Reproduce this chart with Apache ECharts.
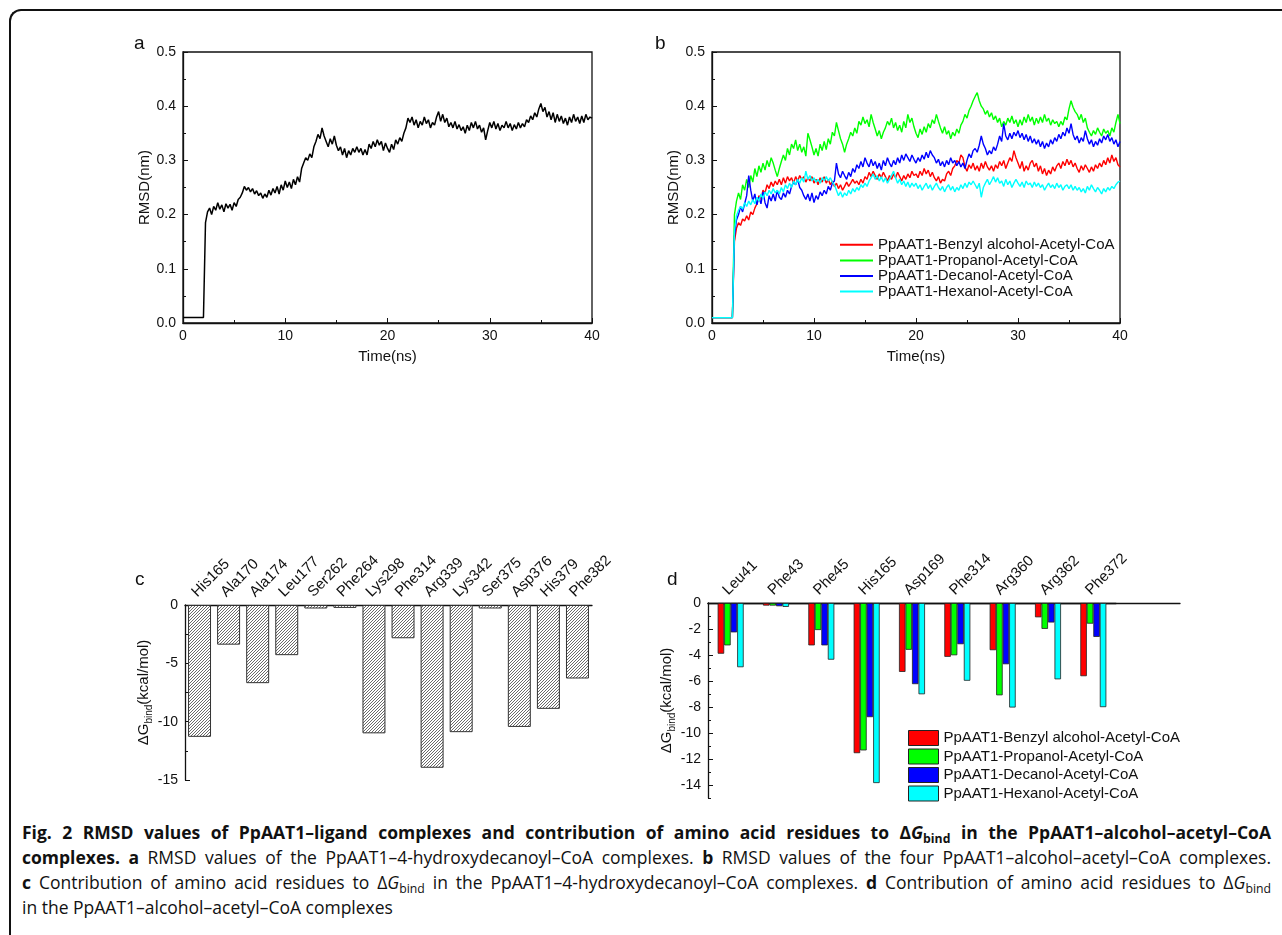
<!DOCTYPE html>
<html><head><meta charset="utf-8">
<script src="https://cdn.jsdelivr.net/npm/echarts@6/dist/echarts.min.js"></script>
<style>
html,body{margin:0;padding:0;background:#fff;width:1282px;height:935px;overflow:hidden;position:relative}
#frame{position:absolute;left:9px;top:9px;width:1400px;height:1100px;border-left:2px solid #111;border-top:2px solid #111;border-top-left-radius:12px;box-sizing:border-box}
#top{position:absolute;left:0;top:0;width:1282px;height:420px}
#bot{position:absolute;left:0;top:420px;width:1282px;height:400px}
#cap{position:absolute;left:22px;top:820px;width:1249px;font-family:'Open Sans',sans-serif;font-size:17.5px;color:#111}
.l{height:25px;line-height:25px;white-space:nowrap}
.j{text-align:justify;text-align-last:justify}
sub{font-size:70%;vertical-align:baseline;position:relative;top:0.3em;line-height:0}
</style></head><body>
<div id="frame"></div>
<div id="top"></div>
<div id="bot"></div>
<div id="cap">
<div class="l j"><b>Fig. 2 RMSD values of PpAAT1–ligand complexes and contribution of amino acid residues to Δ<i>G</i><sub>bind</sub> in the PpAAT1–alcohol–acetyl–CoA</b></div>
<div class="l j"><b>complexes. a</b> RMSD values of the PpAAT1–4-hydroxydecanoyl–CoA complexes. <b>b</b> RMSD values of the four PpAAT1–alcohol–acetyl–CoA complexes.</div>
<div class="l j"><b>c</b> Contribution of amino acid residues to Δ<i>G</i><sub>bind</sub> in the PpAAT1–4-hydroxydecanoyl–CoA complexes. <b>d</b> Contribution of amino acid residues to Δ<i>G</i><sub>bind</sub></div>
<div class="l">in the PpAAT1–alcohol–acetyl–CoA complexes</div>
</div>
<script>
// ---------- DATA ----------
// time grid: 0 .. 40 ns, step 0.2 ns (201 samples)
const timeNs = [];
for (let i = 0; i <= 200; i++) timeNs.push(+(i * 0.2).toFixed(1));

// panel a: PpAAT1-4-hydroxydecanoyl-CoA RMSD (nm)
const rmsdA = [
0.01,0.01,0.01,0.01,0.01,0.01,0.01,0.01,0.01,0.01,
0.01,0.185,0.205,0.212,0.2,0.215,0.208,0.222,0.21,0.218,
0.205,0.22,0.212,0.219,0.208,0.222,0.215,0.228,0.232,0.24,
0.252,0.245,0.25,0.242,0.248,0.238,0.244,0.235,0.24,0.23,
0.238,0.232,0.245,0.236,0.248,0.24,0.252,0.238,0.255,0.245,
0.262,0.25,0.26,0.248,0.265,0.255,0.27,0.26,0.285,0.295,
0.305,0.3,0.312,0.305,0.325,0.335,0.348,0.34,0.36,0.345,
0.335,0.325,0.34,0.33,0.345,0.328,0.318,0.325,0.31,0.322,
0.305,0.318,0.31,0.322,0.315,0.325,0.315,0.322,0.31,0.32,
0.31,0.33,0.322,0.335,0.325,0.338,0.328,0.335,0.318,0.332,
0.322,0.315,0.33,0.32,0.338,0.33,0.342,0.335,0.35,0.36,
0.378,0.37,0.38,0.365,0.375,0.36,0.372,0.365,0.38,0.368,
0.375,0.36,0.37,0.365,0.38,0.39,0.372,0.385,0.37,0.378,
0.362,0.37,0.36,0.372,0.358,0.366,0.355,0.362,0.35,0.365,
0.355,0.37,0.36,0.372,0.358,0.365,0.352,0.36,0.338,0.355,
0.37,0.36,0.372,0.358,0.368,0.355,0.365,0.36,0.372,0.36,
0.368,0.355,0.366,0.358,0.37,0.36,0.368,0.362,0.375,0.37,
0.382,0.375,0.388,0.38,0.395,0.405,0.39,0.398,0.38,0.39,
0.375,0.388,0.37,0.385,0.372,0.382,0.368,0.378,0.365,0.38,
0.37,0.385,0.372,0.38,0.368,0.382,0.37,0.385,0.375,0.38,
0.378];

// panel b series
const rmsdBenzyl = [
0.01,0.01,0.01,0.01,0.01,0.01,0.01,0.01,0.01,0.01,
0.01,0.15,0.175,0.185,0.18,0.192,0.188,0.198,0.19,0.205,
0.2,0.212,0.22,0.235,0.228,0.245,0.24,0.255,0.248,0.26,
0.252,0.262,0.255,0.265,0.255,0.268,0.258,0.27,0.262,0.268,
0.258,0.27,0.262,0.272,0.265,0.27,0.26,0.268,0.262,0.27,
0.258,0.265,0.255,0.268,0.26,0.27,0.258,0.265,0.255,0.262,
0.252,0.258,0.248,0.255,0.245,0.252,0.26,0.252,0.258,0.265,
0.258,0.262,0.255,0.265,0.258,0.27,0.265,0.278,0.27,0.28,
0.272,0.265,0.275,0.268,0.278,0.27,0.262,0.272,0.265,0.275,
0.268,0.278,0.27,0.262,0.272,0.265,0.275,0.268,0.28,0.272,
0.275,0.268,0.28,0.272,0.285,0.275,0.282,0.27,0.278,0.268,
0.262,0.27,0.258,0.265,0.262,0.275,0.28,0.272,0.285,0.29,
0.3,0.295,0.31,0.305,0.288,0.28,0.292,0.285,0.295,0.282,
0.29,0.28,0.295,0.285,0.298,0.288,0.282,0.29,0.28,0.292,
0.285,0.298,0.29,0.3,0.285,0.295,0.305,0.298,0.318,0.305,
0.295,0.285,0.298,0.28,0.29,0.282,0.295,0.3,0.288,0.295,
0.28,0.29,0.275,0.285,0.272,0.282,0.275,0.288,0.28,0.29,
0.295,0.285,0.298,0.29,0.302,0.292,0.3,0.288,0.295,0.285,
0.278,0.29,0.282,0.292,0.285,0.278,0.288,0.28,0.292,0.285,
0.295,0.288,0.3,0.292,0.305,0.295,0.31,0.298,0.305,0.292,
0.288];
const rmsdPropanol = [
0.01,0.01,0.01,0.01,0.01,0.01,0.01,0.01,0.01,0.01,
0.01,0.2,0.225,0.24,0.228,0.255,0.245,0.265,0.25,0.272,
0.26,0.285,0.27,0.29,0.278,0.295,0.282,0.3,0.288,0.305,
0.295,0.282,0.27,0.285,0.298,0.31,0.3,0.322,0.31,0.33,
0.322,0.338,0.318,0.33,0.315,0.325,0.308,0.35,0.338,0.325,
0.31,0.322,0.308,0.33,0.318,0.335,0.32,0.34,0.33,0.352,
0.345,0.37,0.355,0.34,0.33,0.315,0.33,0.34,0.352,0.345,
0.36,0.35,0.372,0.365,0.38,0.368,0.375,0.362,0.385,0.37,
0.358,0.345,0.355,0.34,0.352,0.36,0.372,0.365,0.378,0.36,
0.37,0.355,0.365,0.352,0.372,0.36,0.385,0.37,0.378,0.362,
0.35,0.342,0.358,0.348,0.362,0.352,0.368,0.36,0.375,0.368,
0.385,0.372,0.36,0.35,0.362,0.348,0.355,0.34,0.352,0.345,
0.358,0.35,0.365,0.372,0.385,0.378,0.392,0.4,0.41,0.418,
0.425,0.41,0.4,0.395,0.385,0.392,0.38,0.388,0.375,0.382,
0.37,0.378,0.362,0.372,0.365,0.378,0.37,0.382,0.368,0.375,
0.362,0.375,0.365,0.38,0.37,0.385,0.372,0.38,0.365,0.378,
0.368,0.38,0.37,0.385,0.372,0.378,0.365,0.375,0.368,0.372,
0.362,0.372,0.365,0.38,0.375,0.395,0.41,0.398,0.39,0.385,
0.375,0.385,0.37,0.378,0.36,0.352,0.345,0.355,0.348,0.36,
0.352,0.345,0.358,0.35,0.355,0.345,0.36,0.352,0.37,0.385,
0.368];
const rmsdDecanol = [
0.01,0.01,0.01,0.01,0.01,0.01,0.01,0.01,0.01,0.01,
0.01,0.16,0.19,0.2,0.215,0.205,0.22,0.235,0.272,0.245,
0.225,0.238,0.218,0.232,0.22,0.242,0.222,0.212,0.235,0.225,
0.238,0.225,0.245,0.232,0.228,0.24,0.232,0.245,0.238,0.252,
0.26,0.255,0.265,0.25,0.245,0.235,0.228,0.238,0.225,0.24,
0.222,0.235,0.228,0.242,0.235,0.245,0.238,0.252,0.245,0.258,
0.262,0.295,0.275,0.268,0.28,0.272,0.265,0.278,0.27,0.285,
0.278,0.292,0.285,0.298,0.288,0.305,0.295,0.288,0.302,0.29,
0.298,0.285,0.295,0.282,0.3,0.29,0.305,0.295,0.288,0.3,
0.292,0.305,0.295,0.31,0.3,0.312,0.305,0.298,0.31,0.302,
0.295,0.305,0.298,0.31,0.302,0.315,0.305,0.318,0.31,0.305,
0.295,0.302,0.29,0.298,0.288,0.3,0.292,0.305,0.295,0.3,
0.29,0.298,0.288,0.295,0.285,0.3,0.312,0.305,0.318,0.322,
0.315,0.328,0.345,0.33,0.322,0.31,0.318,0.312,0.325,0.318,
0.33,0.345,0.335,0.368,0.345,0.338,0.35,0.34,0.352,0.345,
0.355,0.342,0.35,0.338,0.348,0.335,0.345,0.332,0.34,0.33,
0.338,0.325,0.335,0.322,0.332,0.325,0.338,0.33,0.342,0.335,
0.348,0.34,0.352,0.345,0.36,0.35,0.368,0.348,0.338,0.345,
0.332,0.342,0.335,0.355,0.34,0.33,0.338,0.325,0.335,0.328,
0.34,0.332,0.345,0.338,0.348,0.335,0.342,0.33,0.338,0.325,
0.335];
const rmsdHexanol = [
0.01,0.01,0.01,0.01,0.01,0.01,0.01,0.01,0.01,0.01,
0.01,0.17,0.198,0.208,0.215,0.21,0.222,0.215,0.225,0.218,
0.228,0.22,0.232,0.225,0.238,0.23,0.242,0.235,0.245,0.238,
0.248,0.24,0.245,0.238,0.25,0.242,0.255,0.248,0.258,0.25,
0.262,0.255,0.265,0.258,0.268,0.26,0.28,0.265,0.272,0.262,
0.268,0.26,0.265,0.258,0.268,0.262,0.27,0.262,0.268,0.26,
0.255,0.245,0.235,0.242,0.232,0.24,0.235,0.245,0.238,0.248,
0.242,0.25,0.245,0.255,0.25,0.258,0.252,0.262,0.268,0.275,
0.265,0.272,0.262,0.27,0.26,0.268,0.258,0.265,0.272,0.28,
0.268,0.258,0.265,0.255,0.262,0.252,0.26,0.25,0.258,0.252,
0.258,0.248,0.255,0.245,0.252,0.258,0.248,0.255,0.245,0.252,
0.258,0.25,0.245,0.252,0.242,0.25,0.255,0.245,0.252,0.242,
0.25,0.245,0.255,0.248,0.258,0.25,0.26,0.255,0.262,0.255,
0.248,0.258,0.232,0.25,0.258,0.265,0.255,0.262,0.27,0.26,
0.268,0.258,0.262,0.252,0.265,0.255,0.262,0.25,0.258,0.265,
0.258,0.252,0.26,0.25,0.262,0.255,0.258,0.25,0.26,0.252,
0.258,0.25,0.255,0.245,0.252,0.258,0.25,0.255,0.248,0.258,
0.25,0.255,0.245,0.252,0.255,0.248,0.255,0.245,0.252,0.245,
0.25,0.242,0.248,0.24,0.252,0.245,0.255,0.248,0.242,0.25,
0.245,0.238,0.248,0.242,0.25,0.245,0.252,0.248,0.255,0.26,
0.262];

const seriesNames = ['PpAAT1-Benzyl alcohol-Acetyl-CoA','PpAAT1-Propanol-Acetyl-CoA','PpAAT1-Decanol-Acetyl-CoA','PpAAT1-Hexanol-Acetyl-CoA'];
const seriesColors = ['#ff0000','#00ff00','#0000ff','#00ffff'];

// panel c
const residuesC = ['His165','Ala170','Ala174','Leu177','Ser262','Phe264','Lys298','Phe314','Arg339','Lys342','Ser375','Asp376','His379','Phe382'];
const dGc = [-11.3,-3.4,-6.7,-4.3,-0.3,-0.25,-11.0,-2.85,-13.95,-10.9,-0.3,-10.45,-8.9,-6.3];

// panel d
const residuesD = ['Leu41','Phe43','Phe45','His165','Asp169','Phe314','Arg360','Arg362','Phe372'];
const dGbenzyl   = [-3.9,-0.2,-3.26,-11.55,-5.3,-4.14,-3.63,-1.1,-5.63];
const dGpropanol = [-3.26,-0.2,-2.08,-11.34,-3.6,-4.02,-7.1,-1.99,-1.59];
const dGdecanol  = [-2.26,-0.25,-3.26,-8.78,-6.24,-3.17,-4.71,-1.5,-2.61];
const dGhexanol  = [-4.94,-0.3,-4.36,-13.85,-7.02,-5.98,-8.04,-5.87,-8.01];
const dTicksD = [0,-2,-4,-6,-8,-10,-12,-14];

// ---------- STYLE ----------
const FONT = "'Liberation Sans', Arial, sans-serif";
const INK = '#111';
function hatchCanvas(){
  const s = 3;
  const c = document.createElement('canvas'); c.width = s; c.height = s;
  const g = c.getContext('2d');
  g.fillStyle = '#fff'; g.fillRect(0,0,s,s);
  g.strokeStyle = '#444'; g.lineWidth = 0.8;
  g.beginPath();
  g.moveTo(0,s); g.lineTo(s,0);
  g.moveTo(-s,s); g.lineTo(s,-s);
  g.moveTo(0,2*s); g.lineTo(2*s,0);
  g.stroke();
  return c;
}

function rmsdXAxis(gi){
  return {type:'value', gridIndex:gi, min:0, max:40, interval:10,
    name:'Time(ns)', nameLocation:'middle', nameGap:26,
    nameTextStyle:{fontSize:15, color:INK, fontFamily:FONT},
    axisLine:{lineStyle:{color:INK, width:1.3}},
    axisTick:{inside:true, length:5, lineStyle:{color:INK}},
    minorTick:{show:true, splitNumber:2, length:3, lineStyle:{color:INK}},
    splitLine:{show:false},
    axisLabel:{fontSize:14, color:INK, margin:6, fontFamily:FONT}};
}
function rmsdYAxis(gi){
  return {type:'value', gridIndex:gi, min:0, max:0.5, interval:0.1,
    name:'RMSD(nm)', nameLocation:'middle', nameGap:30,
    nameTextStyle:{fontSize:15, color:INK, fontFamily:FONT},
    axisLine:{show:true, lineStyle:{color:INK, width:1.3}},
    axisTick:{show:true, inside:true, length:5, lineStyle:{color:INK}},
    minorTick:{show:true, splitNumber:2, length:3, lineStyle:{color:INK}},
    splitLine:{show:false},
    axisLabel:{fontSize:14, color:INK, margin:7, fontFamily:FONT, formatter:v=>v.toFixed(1)}};
}
const pairs = arr => timeNs.map((t,i)=>[t, arr[i]]);

const topChart = echarts.init(document.getElementById('top'), null, {renderer:'canvas'});
topChart.setOption({
  animation:false,
  backgroundColor:'transparent',
  textStyle:{fontFamily:FONT, color:INK},
  title:[
    {text:'a', left:134, top:34, padding:0, textStyle:{fontSize:19, fontWeight:'normal', color:INK, fontFamily:FONT}},
    {text:'b', left:655, top:34, padding:0, textStyle:{fontSize:19, fontWeight:'normal', color:INK, fontFamily:FONT}}
  ],
  grid:[
    {left:183, top:52, width:409, height:271, show:true, borderColor:INK, borderWidth:1.3, backgroundColor:'transparent'},
    {left:712, top:52, width:408, height:271, show:true, borderColor:INK, borderWidth:1.3, backgroundColor:'transparent'}
  ],
  xAxis:[rmsdXAxis(0), rmsdXAxis(1)],
  yAxis:[rmsdYAxis(0), rmsdYAxis(1)],
  legend:{
    orient:'vertical', left:835, top:232, icon:'rect', itemWidth:33, itemHeight:2, itemGap:0,
    textStyle:{fontSize:15, color:INK, lineHeight:15.6, fontFamily:FONT},
    data:seriesNames, selectedMode:false
  },
  series:[
    {type:'line', xAxisIndex:0, yAxisIndex:0, data:pairs(rmsdA), showSymbol:false, symbol:'none',
     lineStyle:{color:'#000', width:1.5}, itemStyle:{color:'#000'}},
    {type:'line', name:seriesNames[0], xAxisIndex:1, yAxisIndex:1, data:pairs(rmsdBenzyl), showSymbol:false, symbol:'none', lineStyle:{color:seriesColors[0], width:1.4}, itemStyle:{color:seriesColors[0]}},
    {type:'line', name:seriesNames[1], xAxisIndex:1, yAxisIndex:1, data:pairs(rmsdPropanol), showSymbol:false, symbol:'none', lineStyle:{color:seriesColors[1], width:1.4}, itemStyle:{color:seriesColors[1]}},
    {type:'line', name:seriesNames[2], xAxisIndex:1, yAxisIndex:1, data:pairs(rmsdDecanol), showSymbol:false, symbol:'none', lineStyle:{color:seriesColors[2], width:1.4}, itemStyle:{color:seriesColors[2]}},
    {type:'line', name:seriesNames[3], xAxisIndex:1, yAxisIndex:1, data:pairs(rmsdHexanol), showSymbol:false, symbol:'none', lineStyle:{color:seriesColors[3], width:1.4}, itemStyle:{color:seriesColors[3]}}
  ]
});

const dGname = {
  name:'{a|ΔG}{s|bind}{a|(kcal/mol)}',
  nameTextStyle:{rich:{
    a:{fontSize:15, color:INK, fontFamily:FONT, lineHeight:20},
    s:{fontSize:10, color:INK, fontFamily:FONT, lineHeight:11, verticalAlign:'bottom'}
  }}
};
function catAxis(gi, cats){
  // on a top axis ECharts negates the rotation, so -45 gives text rising to the right
  return {type:'category', gridIndex:gi, data:cats, position:'top',
    axisLine:{onZero:false, lineStyle:{color:INK, width:1.3}},
    axisTick:{show:false}, splitLine:{show:false},
    axisLabel:{interval:0, rotate:-45, align:'left', verticalAlign:'bottom', fontSize:15, color:INK, margin:5, fontFamily:FONT}};
}

const botChart = echarts.init(document.getElementById('bot'), null, {renderer:'canvas'});
botChart.setOption({
  animation:false,
  backgroundColor:'transparent',
  textStyle:{fontFamily:FONT, color:INK},
  title:[
    {text:'c', left:135, top:150, padding:0, textStyle:{fontSize:19, fontWeight:'normal', color:INK, fontFamily:FONT}},
    {text:'d', left:667, top:150, padding:0, textStyle:{fontSize:19, fontWeight:'normal', color:INK, fontFamily:FONT}}
  ],
  grid:[
    {left:185, top:185, width:407, height:175},
    {left:708, top:183, width:408, height:195},
    {left:708, top:183, width:472, height:195}
  ],
  xAxis:[
    catAxis(0, residuesC),
    catAxis(1, residuesD),
    {type:'value', gridIndex:2, min:0, max:1, position:'top', axisLine:{onZero:false, lineStyle:{color:INK, width:1.3}},
     axisTick:{show:false}, axisLabel:{show:false}, splitLine:{show:false}}
  ],
  yAxis:[
    Object.assign({type:'value', gridIndex:0, min:-15, max:0, interval:5, nameLocation:'middle', nameGap:31,
      axisLine:{show:true, lineStyle:{color:INK, width:1.3}},
      axisTick:{show:true, inside:true, length:5, lineStyle:{color:INK}},
      minorTick:{show:true, splitNumber:2, length:3, lineStyle:{color:INK}},
      splitLine:{show:false},
      axisLabel:{fontSize:14, color:INK, margin:7, fontFamily:FONT}}, dGname),
    Object.assign({type:'value', gridIndex:1, min:-15, max:0, position:'left', offset:0, nameLocation:'middle', nameGap:27,
      axisLine:{show:true, lineStyle:{color:INK, width:1.3}},
      axisTick:{show:true, inside:true, length:5, lineStyle:{color:INK}, customValues:dTicksD},
      splitLine:{show:false},
      axisLabel:{fontSize:14, color:INK, margin:7, fontFamily:FONT, customValues:dTicksD}}, dGname),
    {type:'value', gridIndex:1, min:-15, max:0, interval:1, position:'left', offset:0,
      axisLine:{show:false}, axisLabel:{show:false}, splitLine:{show:false},
      axisTick:{show:true, inside:true, length:3, lineStyle:{color:INK}}},
    {type:'value', gridIndex:2, min:-15, max:0, show:false}
  ],
  legend:{
    orient:'vertical', left:903, top:305, icon:'rect', itemWidth:30, itemHeight:15, itemGap:2.5,
    itemStyle:{borderColor:'#222', borderWidth:1},
    textStyle:{fontSize:15, color:INK, lineHeight:15, fontFamily:FONT},
    data:seriesNames, selectedMode:false
  },
  series:[
    {type:'bar', xAxisIndex:0, yAxisIndex:0, data:dGc, barCategoryGap:'21%',
     itemStyle:{color:{image:hatchCanvas(), repeat:'repeat'}, borderColor:'#333', borderWidth:1}},
    {type:'bar', name:seriesNames[0], xAxisIndex:1, yAxisIndex:1, data:dGbenzyl, barWidth:6.5, barGap:'0%',
     itemStyle:{color:seriesColors[0], borderColor:'#222', borderWidth:0.8}},
    {type:'bar', name:seriesNames[1], xAxisIndex:1, yAxisIndex:1, data:dGpropanol, barWidth:6.5, barGap:'0%',
     itemStyle:{color:seriesColors[1], borderColor:'#222', borderWidth:0.8}},
    {type:'bar', name:seriesNames[2], xAxisIndex:1, yAxisIndex:1, data:dGdecanol, barWidth:6.5, barGap:'0%',
     itemStyle:{color:seriesColors[2], borderColor:'#222', borderWidth:0.8}},
    {type:'bar', name:seriesNames[3], xAxisIndex:1, yAxisIndex:1, data:dGhexanol, barWidth:6.5, barGap:'0%',
     itemStyle:{color:seriesColors[3], borderColor:'#222', borderWidth:0.8}}
  ]
});
</script>
</body></html>
